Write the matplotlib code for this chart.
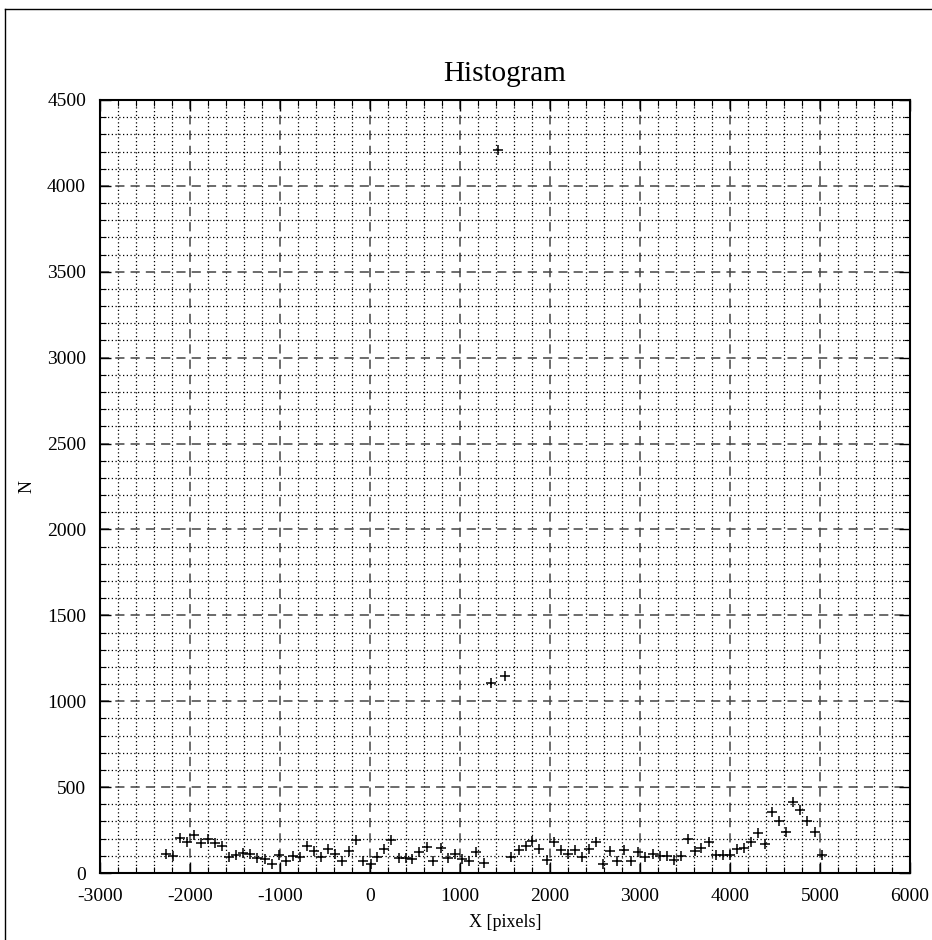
import matplotlib.pyplot as plt
from matplotlib.lines import Line2D
from matplotlib.ticker import MultipleLocator

plt.rcParams['font.family'] = ['Liberation Serif', 'DejaVu Serif']
plt.rcParams['axes.unicode_minus'] = False

# Bin centres
x_bins = [-2271, -2193, -2112, -2034, -1957, -1879, -1798, -1721, -1643, -1566,
          -1488, -1407, -1329, -1251, -1171, -1093, -1012, -938, -857,
          -783, -702, -620, -547, -470, -388, -307, -229, -152, -74,
          7, 81, 159, 236, 317, 395, 472, 549, 631, 704, 786,
          867, 945, 1022, 1100, 1181, 1262,
          1341, 1420, 1499,
          1568, 1650, 1728, 1805, 1883, 1963, 2041, 2118, 2196, 2277, 2354,
          2429, 2514, 2591, 2669, 2742, 2824, 2905, 2982, 3060, 3141,
          3218, 3296, 3373, 3451, 3528, 3606, 3683, 3765, 3842, 3920, 3998,
          4079, 4156, 4234, 4312, 4393, 4467, 4544, 4625, 4703, 4780,
          4858, 4940, 5017]

# Counts per bin
counts = [113, 101, 204, 183, 221, 175, 198, 175, 155, 93,
          107, 118, 111, 87, 83, 50, 105, 70, 99,
          93, 155, 128, 91, 140, 109, 70, 130, 194, 70,
          54, 91, 140, 194, 85, 85, 83, 120, 151, 70, 146,
          89, 113, 83, 70, 120, 56,
          1104, 4208, 1148,
          93, 132, 155, 188, 140, 76, 179, 134, 113, 134, 93,
          140, 179, 54, 126, 70, 134, 72, 124, 93, 109,
          99, 99, 76, 99, 200, 130, 148, 179, 107, 107, 107,
          140, 148, 183, 233, 169, 355, 305, 237, 412, 369,
          305, 239, 103]

W, H = 932, 940
fig = plt.figure(figsize=(W / 100, H / 100), dpi=100)
ax = fig.add_axes([100 / W, (H - 873) / H, 810 / W, 773 / H])

ax.plot(x_bins, counts, linestyle='none', marker='+', color='black',
        markersize=7.5, markeredgewidth=1.1)

ax.set_xlim(-3000, 6000)
ax.set_ylim(0, 4500)
ax.xaxis.set_major_locator(MultipleLocator(1000))
ax.xaxis.set_minor_locator(MultipleLocator(200))
ax.yaxis.set_major_locator(MultipleLocator(500))
ax.yaxis.set_minor_locator(MultipleLocator(100))

# gnuplot style grid
ax.grid(which='major', linestyle=(0, (6, 4)), color='#444444', linewidth=1.1)
ax.grid(which='minor', linestyle=(0, (1, 2)), color='black', linewidth=0.9)
ax.set_axisbelow(True)

ax.tick_params(which='both', direction='in', top=True, right=True,
               labelsize=14, colors='black')
ax.tick_params(which='major', length=8, width=1.0)
ax.tick_params(which='minor', length=4, width=0.8)
ax.tick_params(axis='x', which='major', pad=11)
ax.tick_params(axis='y', which='major', pad=10)
for s in ax.spines.values():
    s.set_linewidth(1.5)

ax.set_title('Histogram', fontsize=21, pad=14)
ax.set_xlabel('X [pixels]', fontsize=13, labelpad=6)
ax.set_ylabel('N', fontsize=13, labelpad=8)

# page border on the left and top
fig.add_artist(Line2D([5 / W, 5 / W], [0, 1 - 9 / H], transform=fig.transFigure,
                      color='black', linewidth=1.0))
fig.add_artist(Line2D([5 / W, 1], [1 - 9 / H, 1 - 9 / H], transform=fig.transFigure,
                      color='black', linewidth=1.0))

fig.savefig('out.png', dpi=100)
